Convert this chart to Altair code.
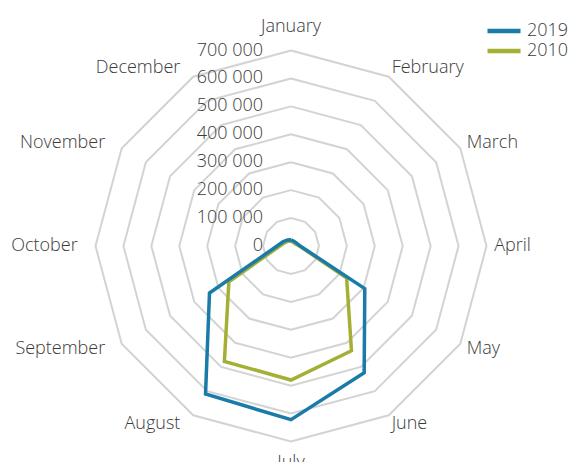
import altair as alt
import pandas as pd

# ---- data ----
months = ["January", "February", "March", "April", "May", "June",
          "July", "August", "September", "October", "November", "December"]
series_names = ["2019", "2010"]
values_2019 = [22000, 20000, 22000, 33000, 305000, 524000,
               622000, 612000, 337000, 50000, 32000, 25000]
values_2010 = [18000, 15000, 17000, 30000, 230000, 433000,
               480000, 477000, 257000, 40000, 25000, 20000]
tick_values = [0, 100000, 200000, 300000, 400000, 500000, 600000, 700000]
tick_labels = ["0", "100 000", "200 000", "300 000", "400 000",
               "500 000", "600 000", "700 000"]
ring_levels = tick_values[1:]

BLUE = "#1b7ba8"
GREEN = "#a4b035"
GRID = "#d3d3d3"
TEXT = "#3a3a3a"
FONT = "Open Sans"
FS = 18
FW = 300

R_MAX = 700000
LABEL_R = R_MAX * 1.05

# ---- tables ----
rows = []
for name, vals in (("2010", values_2010), ("2019", values_2019)):
    for i in range(13):
        rows.append({"series": name, "idx": i, "value": vals[i % 12]})
series_df = pd.DataFrame(rows)

ring_rows = []
for lv in ring_levels:
    for i in range(13):
        ring_rows.append({"level": lv, "idx": i, "value": lv})
ring_df = pd.DataFrame(ring_rows)

label_df = pd.DataFrame({"month": months, "idx": list(range(12))})
label_df["value"] = LABEL_R
tick_df = pd.DataFrame({"value": tick_values, "label": tick_labels})

px_per_unit = 195.5 / R_MAX
W, H = 565, 454
cx, cy = 283, 238
x_dom = [-cx / px_per_unit, (W - cx) / px_per_unit]
y_dom = [-(H - cy) / px_per_unit, cy / px_per_unit]

xs = alt.Scale(domain=x_dom, nice=False, zero=False)
ys = alt.Scale(domain=y_dom, nice=False, zero=False)

def polar(ch):
    return ch.transform_calculate(
        x="datum.value * sin(datum.idx * PI / 6)",
        y="datum.value * cos(datum.idx * PI / 6)",
    )

X = alt.X("x:Q", scale=xs, axis=None)
Y = alt.Y("y:Q", scale=ys, axis=None)

rings = polar(alt.Chart(ring_df).mark_line(color=GRID, strokeWidth=2)).encode(
    x=X, y=Y, detail="level:N", order="idx:Q")

# legend symbol: a long thin stroke (custom path in the [-1,1] box, stretched)
color = alt.Color("series:N",
                  scale=alt.Scale(domain=series_names, range=[BLUE, GREEN]),
                  legend=alt.Legend(title=None, orient="none", legendX=487, legendY=14,
                                    symbolType="M-3,0L3,0", symbolSize=121,
                                    symbolStrokeWidth=4.5, labelFontSize=FS,
                                    labelFont=FONT, labelFontWeight=FW,
                                    labelColor=TEXT,
                                    labelOffset=14, rowPadding=2, padding=0))

def series_layer(name):
    return polar(alt.Chart(series_df).transform_filter(
        alt.datum.series == name).mark_line(strokeWidth=3.5, strokeJoin="miter")).encode(
        x=X, y=Y, color=color, order="idx:Q")

line2010 = series_layer("2010")
line2019 = series_layer("2019")

def month_text(filter_expr, **kw):
    return polar(alt.Chart(label_df).transform_filter(filter_expr).mark_text(
        font=FONT, fontSize=FS, fontWeight=FW, color=TEXT, baseline="middle", **kw)).encode(
        x=X, y=Y, text="month:N")

right_lbl = month_text("datum.idx >= 1 && datum.idx <= 5", align="left", dx=-2)
left_lbl = month_text("datum.idx >= 7", align="right", dx=-8)
top_lbl = month_text("datum.idx == 0", align="center", dy=-14)
bot_lbl = month_text("datum.idx == 6", align="center", dy=12)

ticks = alt.Chart(tick_df).transform_calculate(x="0", y="datum.value").mark_text(
    font=FONT, fontSize=FS, fontWeight=FW, color=TEXT, align="right",
    baseline="middle", dx=-28).encode(
    x=X, y=Y, text="label:N")

chart = alt.layer(rings, line2010, line2019, ticks, right_lbl, left_lbl, top_lbl, bot_lbl).properties(
    width=W, height=H, padding=0, autosize=alt.AutoSizeParams(type="none"),
    background="white"
).configure_view(stroke=None)

chart.save("out.html", embed_options={"renderer": "svg", "actions": False})
